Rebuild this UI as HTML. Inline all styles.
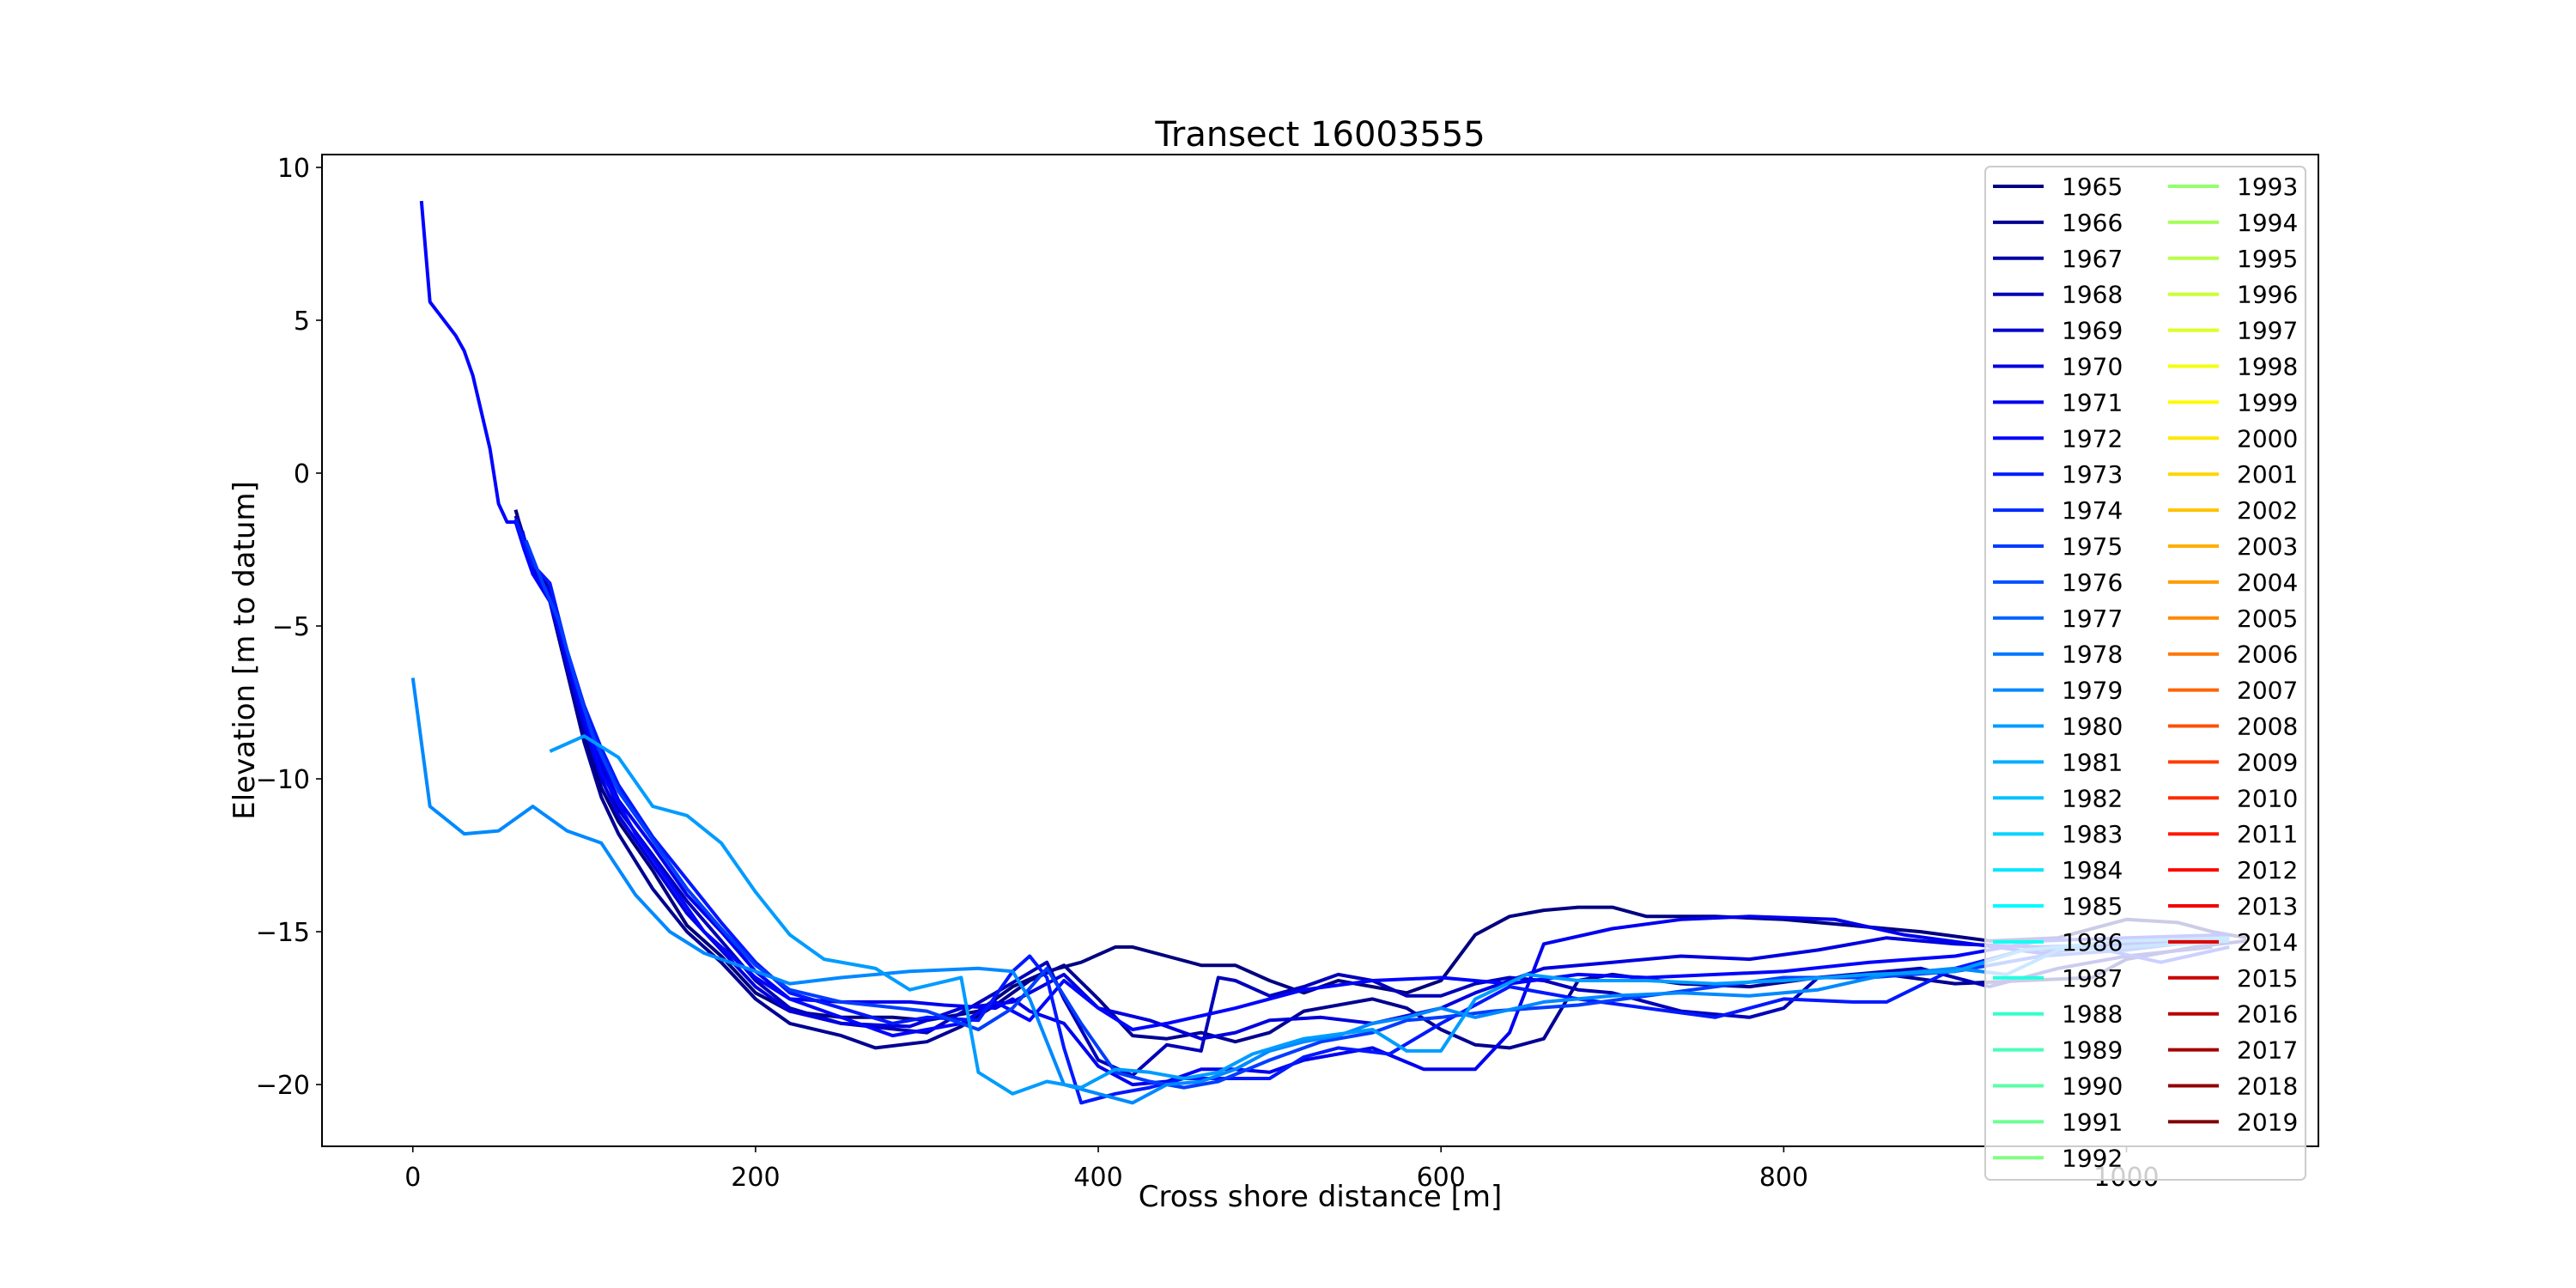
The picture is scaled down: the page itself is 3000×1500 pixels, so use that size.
<!DOCTYPE html>
<html><head><meta charset="utf-8">
<style>
html,body{margin:0;padding:0;background:#fff;}
svg{display:block;font-family:"DejaVu Sans","Liberation Sans",sans-serif;}
</style></head>
<body>
<svg id="chart" width="3000" height="1500" viewBox="0 0 3000 1500" xmlns="http://www.w3.org/2000/svg">
<rect width="3000" height="1500" fill="#fff"/>
<g id="plot"></g>
<g id="axes"></g>
<g id="legend"></g>
</svg>
<script>
const years = [];
for (let y = 1965; y <= 2019; y++) years.push(y);
const xTicks = [0, 200, 400, 600, 800, 1000];
const yTicks = [10, 5, 0, -5, -10, -15, -20];

const seriesYears = [1965, 1966, 1968, 1970, 1971, 1972, 1973, 1975, 1979, 1980];

const x1965 = [60,70,80,90,100,110,120,140,160,180,200,220,250,280,300,330,350,370,390,410,420,440,460,480,500,520,540,560,580,600,620,640,660,680,700,720,760,800,840,880,920,960,1000,1030,1050,1070];
const y1965 = [-1.2,-3.2,-4.0,-6.2,-8.5,-10.3,-11.4,-13.0,-14.8,-15.8,-17.0,-17.6,-17.8,-17.8,-17.9,-17.6,-16.8,-16.3,-16.0,-15.5,-15.5,-15.8,-16.1,-16.1,-16.6,-17.0,-16.6,-16.8,-17.0,-16.6,-15.1,-14.5,-14.3,-14.2,-14.2,-14.5,-14.5,-14.6,-14.8,-15.0,-15.3,-15.2,-14.6,-14.7,-15.0,-15.2];
const x1966 = [62,70,80,90,100,110,120,140,160,180,200,220,250,270,300,320,340,360,380,400,420,440,460,480,500,520,560,580,600,620,640,660,680,700,740,780,820,860,900,940,980,1000,1040,1070];
const y1966 = [-1.6,-3.0,-4.2,-6.5,-8.8,-10.6,-11.8,-13.6,-15.0,-16.0,-17.2,-18.0,-18.4,-18.8,-18.6,-18.1,-17.4,-16.6,-16.1,-17.2,-18.4,-18.5,-18.3,-18.6,-18.3,-17.6,-17.2,-17.5,-18.2,-18.7,-18.8,-18.5,-16.6,-16.4,-16.7,-16.8,-16.5,-16.4,-16.7,-16.6,-16.5,-15.9,-15.5,-15.3];
const x1968 = [60,70,80,90,100,110,120,140,160,180,200,220,250,300,340,370,380,400,420,440,460,470,480,500,520,540,560,580,600,620,640,660,680,700,740,780,800,820,880,920,960,1000,1050];
const y1968 = [-1.4,-3.0,-3.8,-6.0,-8.0,-9.6,-11.0,-12.5,-14.0,-15.3,-16.6,-17.5,-18.0,-18.3,-17.0,-16.0,-17.2,-19.2,-19.7,-18.7,-18.9,-16.5,-16.6,-17.1,-16.8,-16.4,-16.6,-17.1,-17.1,-16.7,-16.5,-16.6,-16.9,-17.0,-17.6,-17.8,-17.5,-16.5,-16.2,-16.8,-16.2,-15.8,-15.5];
const x1970 = [62,70,80,90,100,110,120,140,160,180,200,220,250,290,320,350,380,400,430,460,480,500,530,560,600,620,660,700,740,780,820,860,900,950,1000,1060];
const y1970 = [-1.8,-3.1,-4.0,-6.3,-8.3,-10.0,-11.2,-12.8,-14.4,-15.6,-16.8,-17.6,-18.0,-18.1,-17.5,-17.3,-16.4,-17.5,-17.9,-18.5,-18.3,-17.9,-17.8,-18.0,-17.5,-17.0,-16.2,-16.0,-15.8,-15.9,-15.6,-15.2,-15.4,-15.5,-15.4,-15.2];
const x1971 = [64,70,80,90,100,110,120,140,160,180,200,220,250,290,310,340,350,360,380,400,420,440,460,480,500,520,560,590,620,640,660,700,740,780,830,870,910,950,1000,1060];
const y1971 = [-1.9,-3.3,-3.9,-6.0,-7.8,-9.4,-10.7,-12.2,-13.8,-15.0,-16.3,-17.2,-17.3,-17.3,-17.4,-17.5,-17.2,-17.6,-18.0,-19.4,-20.0,-19.9,-19.5,-19.5,-19.6,-19.2,-18.8,-19.5,-19.5,-18.3,-15.4,-14.9,-14.6,-14.5,-14.6,-15.1,-15.4,-15.7,-15.4,-15.3];
const x1972 = [5,10,25,30,35,45,50,55,60,65,70,80,90,100,110,130,150,170,200,220,250,280,320,340,360,380,400,420,440,480,520,560,600,640,680,720,760,800,850,900,950,1000,1060];
const y1972 = [8.9,5.6,4.5,4.0,3.2,0.8,-1.0,-1.6,-1.6,-2.5,-3.3,-4.2,-6.0,-8.0,-9.8,-11.8,-13.4,-15.0,-16.5,-17.2,-17.8,-18.4,-18.0,-17.3,-17.9,-16.6,-17.5,-18.2,-18.0,-17.5,-16.9,-16.6,-16.5,-16.7,-16.4,-16.5,-16.4,-16.3,-16.0,-15.8,-15.3,-15.2,-15.1];
const x1973 = [60,70,80,90,100,110,120,140,160,180,200,220,250,280,300,330,350,360,370,380,390,410,430,450,480,500,520,540,570,600,640,680,720,760,800,840,860,900,940,980,1020,1060];
const y1973 = [-1.5,-3.0,-3.6,-5.8,-7.6,-9.0,-10.2,-11.9,-13.3,-14.7,-16.0,-17.0,-17.5,-18.0,-17.8,-17.9,-16.3,-15.8,-16.5,-18.8,-20.6,-20.3,-20.1,-19.8,-19.8,-19.8,-19.1,-18.8,-19.0,-18.0,-16.8,-17.2,-17.5,-17.8,-17.2,-17.3,-17.3,-16.2,-15.6,-15.5,-16.0,-15.5];
const x1975 = [66,75,85,95,105,120,140,160,180,200,220,250,300,330,350,370,390,410,430,450,470,500,530,560,580,600,630,680,720,760,800,850,900,950,1000,1060];
const y1975 = [-2.2,-3.5,-4.8,-6.8,-8.6,-10.4,-12.0,-13.6,-14.9,-16.1,-16.9,-17.3,-17.6,-18.2,-17.5,-16.2,-18.0,-19.6,-19.9,-20.1,-19.9,-19.2,-18.6,-18.3,-17.9,-17.8,-17.6,-17.4,-17.1,-16.8,-16.5,-16.5,-16.3,-15.8,-15.6,-15.2];
const x1979 = [0,10,30,50,70,90,110,130,150,170,190,220,250,290,330,350,360,380,400,420,440,460,480,500,520,540,560,580,600,620,660,700,740,780,820,860,900,930,960,1000,1060];
const y1979 = [-6.7,-10.9,-11.8,-11.7,-10.9,-11.7,-12.1,-13.8,-15.0,-15.7,-16.1,-16.7,-16.5,-16.3,-16.2,-16.3,-17.2,-20.0,-20.3,-20.6,-20.0,-19.9,-19.5,-18.9,-18.6,-18.4,-18.0,-17.8,-17.5,-17.8,-17.3,-17.1,-17.0,-17.1,-16.9,-16.4,-16.2,-16.4,-15.6,-15.5,-15.3];
const x1980 = [80,100,120,140,160,180,200,220,240,270,290,320,330,350,370,390,410,430,450,470,490,520,560,580,600,620,650,680,720,760,800,850,900,940,1000,1060];
const y1980 = [-9.1,-8.6,-9.3,-10.9,-11.2,-12.1,-13.7,-15.1,-15.9,-16.2,-16.9,-16.5,-19.6,-20.3,-19.9,-20.1,-19.5,-19.6,-19.8,-19.6,-19.0,-18.5,-18.2,-18.9,-18.9,-17.2,-16.4,-16.6,-16.6,-16.7,-16.6,-16.4,-16.3,-15.6,-15.3,-15.2];

const seriesX = [x1965,x1966,x1968,x1970,x1971,x1972,x1973,x1975,x1979,x1980];
const seriesY = [y1965,y1966,y1968,y1970,y1971,y1972,y1973,y1975,y1979,y1980];

const NS = "http://www.w3.org/2000/svg";
const L = 375, R = 2700, T = 180, B = 1335;
const xMin = -53, xMax = 1112, yMin = -22.02, yMax = 10.42;
function sx(v){ return L + (v - xMin) / (xMax - xMin) * (R - L); }
function sy(v){ return B - (v - yMin) / (yMax - yMin) * (B - T); }
function clip(v){ return Math.max(0, Math.min(1, v)); }
function jet(t){
  const r = clip(1.5 - Math.abs(4*t - 3)), g = clip(1.5 - Math.abs(4*t - 2)), b = clip(1.5 - Math.abs(4*t - 1));
  return "rgb(" + Math.round(r*255) + "," + Math.round(g*255) + "," + Math.round(b*255) + ")";
}
function colorFor(year){ return jet((year - 1965) / (2019 - 1965)); }
function mk(tag, attrs, parent){
  const e = document.createElementNS(NS, tag);
  for (const k in attrs) e.setAttribute(k, attrs[k]);
  parent.appendChild(e);
  return e;
}

const plot = document.getElementById("plot");
const clipEl = mk("clipPath", {id:"pc"}, plot);
mk("rect", {x:L, y:T, width:R-L, height:B-T}, clipEl);
const lines = mk("g", {"clip-path":"url(#pc)"}, plot);
for (let i = 0; i < seriesYears.length; i++) {
  const pts = seriesX[i].map((xv, j) => sx(xv).toFixed(1) + "," + sy(seriesY[i][j]).toFixed(1)).join(" ");
  const pl = mk("polyline", {points: pts, fill:"none", stroke: colorFor(seriesYears[i]), "stroke-width":4, "stroke-linejoin":"round"}, lines);
  
  
}

const axes = document.getElementById("axes");
const frame = mk("rect", {x:L, y:T, width:R-L, height:B-T, fill:"none", stroke:"#000", "stroke-width":2}, axes);


xTicks.forEach(v => {
  const x = sx(v);
  mk("line", {x1:x, x2:x, y1:B, y2:B+7, stroke:"#000", "stroke-width":1.6}, axes);
  const t = mk("text", {x:x, y:B+46, "text-anchor":"middle", "font-size":30, fill:"#000"}, axes);
  t.textContent = v;
  
  
});
yTicks.forEach(v => {
  const y = sy(v);
  mk("line", {x1:L-7, x2:L, y1:y, y2:y, stroke:"#000", "stroke-width":1.6}, axes);
  const t = mk("text", {x:L-14, y:y+11, "text-anchor":"end", "font-size":30, fill:"#000"}, axes);
  t.textContent = v < 0 ? "\u2212" + Math.abs(v) : v;
  
  
});
const title = mk("text", {x:(L+R)/2, y:170, "text-anchor":"middle", "font-size":40, fill:"#000"}, axes);
title.textContent = "Transect 16003555";


const xl = mk("text", {x:(L+R)/2, y:1405, "text-anchor":"middle", "font-size":34, fill:"#000"}, axes);
xl.textContent = "Cross shore distance [m]";


const yl = mk("text", {x:0, y:0, "text-anchor":"middle", "font-size":34, fill:"#000", transform:"translate(296," + ((T+B)/2) + ") rotate(-90)"}, axes);
yl.textContent = "Elevation [m to datum]";



const leg = document.getElementById("legend");
const box = mk("rect", {x:2312, y:194, width:373, height:1180, rx:6, fill:"rgba(255,255,255,0.8)", stroke:"#cccccc", "stroke-width":2}, leg);


years.forEach((yr, i) => {
  const col = i < 28 ? 0 : 1;
  const row = i < 28 ? i : i - 28;
  const y = 217 + row * 41.9;
  const x0 = col === 0 ? 2321 : 2525;
  const g = mk("g", {}, leg);
  
  
  mk("line", {x1:x0, x2:x0+59, y1:y, y2:y, stroke:colorFor(yr), "stroke-width":4}, g);
  const t = mk("text", {x:x0+80, y:y+10, "font-size":28, fill:"#000"}, g);
  t.textContent = yr;
});
</script>
</body></html>
